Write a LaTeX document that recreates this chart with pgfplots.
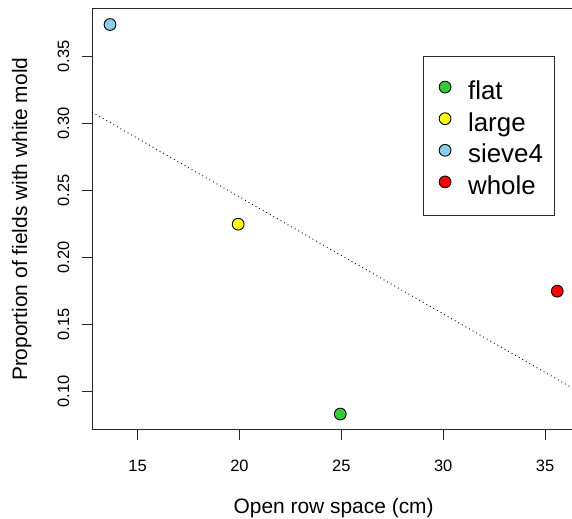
\documentclass[border=0pt]{standalone}
\usepackage{pgfplots}
\pgfplotsset{compat=1.18}
\usepackage{fontspec}
\setmainfont{Liberation Sans}
\usetikzlibrary{calc}

\definecolor{flatcol}{HTML}{32CD32}
\definecolor{largecol}{HTML}{FFFF00}
\definecolor{sievecol}{HTML}{87CEEB}
\definecolor{wholecol}{HTML}{FF0000}

\begin{document}
\begin{tikzpicture}
\begin{axis}[
  at={(0,0)}, anchor=south west,
  scale only axis,
  width=483.1bp, height=420.6bp,
  xmin=12.77, xmax=36.48,
  ymin=0.0717, ymax=0.3856,
  axis x line*=bottom, axis y line*=left,
  axis line style={line width=1bp, black!85},
  xtick={15,20,25,30,35},
  ytick={0.10,0.15,0.20,0.25,0.30,0.35},
  tick align=outside,
  major tick length=10bp,
  tick style={line width=1bp, black!85},
  xtick pos=bottom, ytick pos=left,
  /pgf/number format/assume math mode=true,
  ticklabel style={font=\fontsize{16.5}{18}\selectfont, inner sep=0pt},
  xticklabel style={anchor=base, yshift=-32bp},
  % rotated labels: yshift acts across the axis here
  yticklabel style={/pgf/number format/fixed, /pgf/number format/fixed zerofill,
    /pgf/number format/precision=2, rotate=90, anchor=base, yshift=13bp},
  xlabel={Open row space (cm)},
  ylabel={Proportion of fields with white mold},
  label style={font=\fontsize{21}{24}\selectfont, inner sep=0pt},
  xlabel style={at={($(rel axis cs:0.5,0)+(0,-83.4bp)$)}, anchor=base},
  ylabel style={at={($(rel axis cs:0,0.5)+(-65bp,0)$)}, anchor=base},
  legend style={
    at={(rel axis cs:0.6843,0.888)}, anchor=north west,
    draw=black!85, line width=0.8bp,
    font=\fontsize{26}{30}\selectfont,
    inner xsep=10bp, inner ysep=19.1bp,
    nodes={inner sep=1bp, text height=23bp, text depth=1bp},
    row sep=5.6bp, column sep=16bp,
    legend cell align=left,
  },
  legend image code/.code={%
    \path[draw=none, fill=none] (-12bp,0bp) -- (6bp,0bp);
    \draw[#1] plot coordinates {(0bp,1.5bp)};},
  mark size=5.9bp,
  every axis plot/.append style={line width=0.9bp},
]
% least-squares trend line
\addplot[black, line width=0.9bp, dash pattern=on 0.9bp off 3.2bp, forget plot]
  coordinates {(12.77,0.3085) (36.48,0.1015)};

\addplot[only marks, mark=*, mark options={fill=flatcol, draw=black}] coordinates {(24.95,0.0833)};
\addlegendentry{flat}
\addplot[only marks, mark=*, mark options={fill=largecol, draw=black}] coordinates {(19.94,0.2250)};
\addlegendentry{large}
\addplot[only marks, mark=*, mark options={fill=sievecol, draw=black}] coordinates {(13.65,0.3740)};
\addlegendentry{sieve4}
\addplot[only marks, mark=*, mark options={fill=wholecol, draw=black}] coordinates {(35.60,0.1750)};
\addlegendentry{whole}

% upper frame line
\draw[line width=1bp, black!85] (rel axis cs:0,1) -- (rel axis cs:1,1);
\end{axis}
\pgfresetboundingbox
\useasboundingbox (-92.1bp,-89.4bp) rectangle (479.9bp,429.6bp);
\end{tikzpicture}
\end{document}
